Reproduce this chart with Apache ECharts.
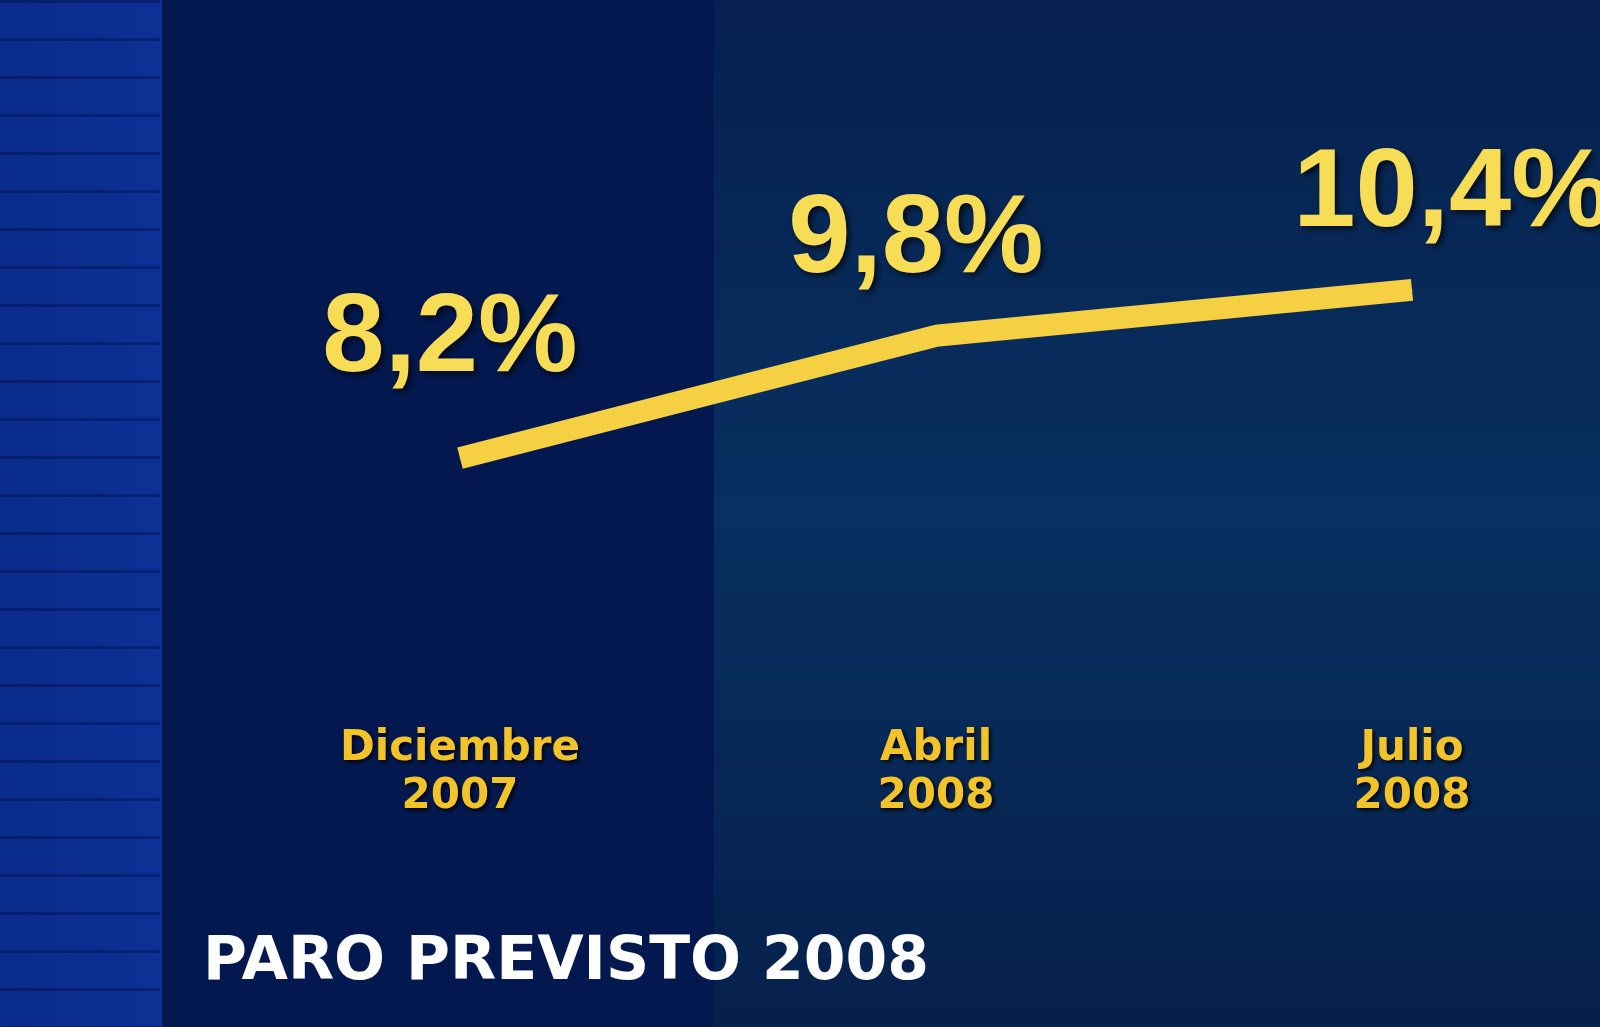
<!DOCTYPE html><html><head><meta charset="utf-8"><script src="https://cdn.jsdelivr.net/npm/echarts@6/dist/echarts.min.js"></script>
<style>html,body{margin:0;padding:0;background:#021040}#c{width:1600px;height:1027px}</style></head><body><div id="c"></div><script>
const categories=['Diciembre\n2007','Abril\n2008','Julio\n2008'];
const values=[8.2,9.8,10.4];
const valueLabels=['8,2%','9,8%','10,4%'];
const stripes=[];for(let y=0;y<1027;y+=38){stripes.push({type:'rect',shape:{x:0,y:y,width:160,height:3},style:{fill:'rgba(0,0,40,0.3)'},z:-9});}
const chart=echarts.init(document.getElementById('c'));
chart.setOption({
backgroundColor:'#021040',
graphic:[
{type:'rect',shape:{x:0,y:0,width:162,height:1027},style:{fill:new echarts.graphic.LinearGradient(0,0,1,0,[{offset:0,color:'#0a2c8c'},{offset:1,color:'#0c3094'}])},z:-10},
...stripes,
{type:'rect',shape:{x:162,y:0,width:552,height:1027},style:{fill:'#03184f'},z:-10},
{type:'rect',shape:{x:714,y:0,width:886,height:1027},style:{fill:new echarts.graphic.LinearGradient(0,0,0,1,[{offset:0,color:'#06214f'},{offset:0.5,color:'#083060'},{offset:1,color:'#06204c'}])},z:-10}
],
title:{text:'PARO PREVISTO 2008',left:198,top:928,textStyle:{color:'#ffffff',fontSize:60,fontWeight:'bold',fontFamily:'DejaVu Sans'}},
grid:{left:460,right:188,top:244,bottom:477},
xAxis:{type:'category',data:categories,boundaryGap:false,axisLine:{show:false},axisTick:{show:false},splitLine:{show:false},
 axisLabel:{margin:175,color:'#f2c42a',fontSize:42,lineHeight:48,fontWeight:'bold',fontFamily:'DejaVu Sans',textShadowColor:'#000',textShadowBlur:4,textShadowOffsetX:2,textShadowOffsetY:2}},
yAxis:{type:'value',min:7,max:11,show:false,splitLine:{show:false}},
series:[{type:'line',data:values.map((v,i)=>({value:v,label:{distance:i===0?62:38,offset:i===2?[40,0]:(i===0?[-10,0]:[-20,0])}})),symbol:'circle',symbolSize:1,showSymbol:true,
 itemStyle:{color:'#f5d043'},
 lineStyle:{color:'#f5d043',width:22,cap:'butt'},
 label:{show:true,position:'top',formatter:p=>valueLabels[p.dataIndex],color:'#f7dc55',fontSize:112,fontWeight:'bold',fontFamily:'Liberation Sans',textShadowColor:'rgba(0,0,0,0.7)',textShadowBlur:6,textShadowOffsetX:3,textShadowOffsetY:3}}]
});
</script></body></html>
